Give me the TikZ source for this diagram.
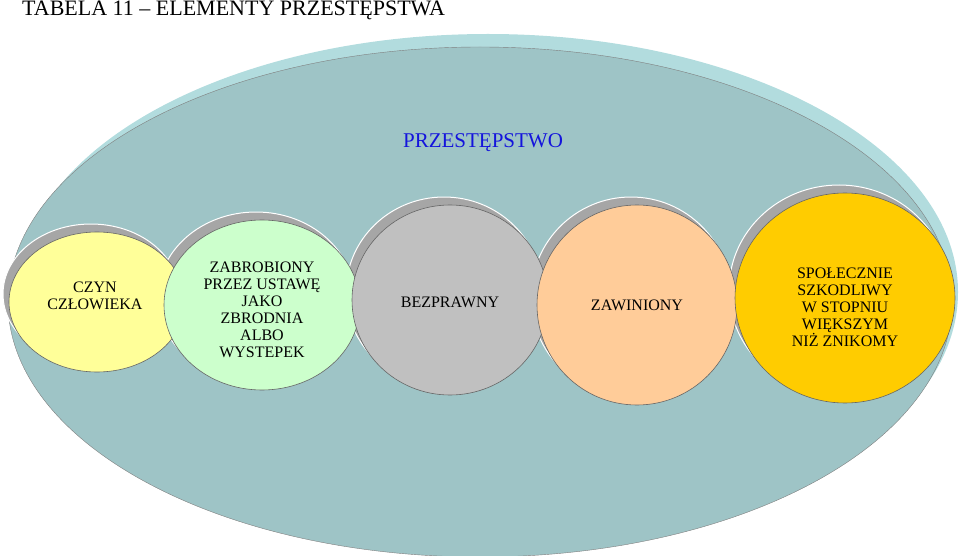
\documentclass[tikz,border=0pt]{standalone}
\usepackage{fontspec}
\setmainfont{Liberation Serif}
\begin{document}
\begin{tikzpicture}[x=1pt,y=-1pt,
  bub/.style={draw=black!60,line width=0.6pt,align=center,font=\fontsize{16}{17}\selectfont},
  shad/.style={fill=black!35,draw=white,line width=1pt}]
\useasboundingbox (0,0) rectangle (960,556);
\clip (0,0) rectangle (960,556);
\fill[fill={rgb,255:red,178;green,220;blue,222}] (488,292) ellipse [x radius=470,y radius=258];
\fill[fill={rgb,255:red,158;green,196;blue,198},draw=black!50] (480,302) ellipse [x radius=472,y radius=255];
\node[font=\fontsize{22}{23}\selectfont,anchor=north west,inner sep=0pt] (title) at (22,1) {TABELA 11 -- ELEMENTY PRZESTĘPSTWA};
\node[font=\fontsize{21}{22}\selectfont,text={rgb,255:red,20;green,20;blue,220}] (main) at (483,143) {PRZESTĘPSTWO};
\foreach \x/\y/\rx/\ry in {97/302/88/70, 262/305/98/85, 450/300/98/95, 637/305/100/100, 845/298/110/105}
  \draw[shad] (\x-6,\y-8) ellipse [x radius=\rx,y radius=\ry];
\fill[bub,fill={rgb,255:red,255;green,255;blue,153}] (97,302) ellipse [x radius=88,y radius=70];
\fill[bub,fill={rgb,255:red,204;green,255;blue,204}] (262,305) ellipse [x radius=98,y radius=85];
\fill[bub,fill={rgb,255:red,192;green,192;blue,192}] (450,300) ellipse [x radius=98,y radius=95];
\fill[bub,fill={rgb,255:red,255;green,204;blue,153}] (637,305) ellipse [x radius=100,y radius=100];
\fill[bub,fill={rgb,255:red,255;green,204;blue,0}] (845,298) ellipse [x radius=110,y radius=105];
\node[bub,draw=none] (a) at (95,296) {CZYN\\CZŁOWIEKA};
\node[bub,draw=none] (b) at (262,310) {ZABROBIONY\\PRZEZ USTAWĘ\\JAKO\\ZBRODNIA\\ALBO\\WYSTEPEK};
\node[bub,draw=none] (c) at (450,302) {BEZPRAWNY};
\node[bub,draw=none] (d) at (637,305) {ZAWINIONY};
\node[bub,draw=none] (e) at (845,307) {SPOŁECZNIE\\SZKODLIWY\\W STOPNIU\\WIĘKSZYM\\NIŻ ZNIKOMY};
\end{tikzpicture}
\end{document}
